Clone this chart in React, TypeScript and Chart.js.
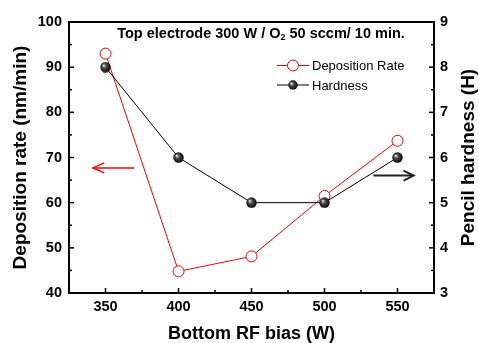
import React, { useEffect, useRef } from 'react';
import { Chart, registerables } from 'chart.js';
Chart.register(...registerables);

const biasW = [350, 400, 450, 500, 550];
const depositionRate = [93.0, 44.8, 48.1, 61.5, 73.7];
const hardness = [8, 6, 5, 5, 6];
const xTicks = [350, 400, 450, 500, 550];
const xMinorTicks = [375, 425, 475, 525];
const leftTicks = [40, 50, 60, 70, 80, 90, 100];
const leftMinorTicks = [45, 55, 65, 75, 85, 95];
const rightTicks = [3, 4, 5, 6, 7, 8, 9];
const rightMinorTicks = [3.5, 4.5, 5.5, 6.5, 7.5, 8.5];

const FONT = '"Liberation Sans", Arial, sans-serif';

function makeBall(size: number): HTMLCanvasElement {
  const c = document.createElement('canvas');
  c.width = size;
  c.height = size;
  const g = c.getContext('2d')!;
  const r = size / 2;
  const grad = g.createRadialGradient(r - r * 0.35, r - r * 0.35, r * 0.05, r, r, r);
  grad.addColorStop(0, '#e8e8e8');
  grad.addColorStop(0.35, '#505050');
  grad.addColorStop(1, '#000000');
  g.fillStyle = grad;
  g.beginPath();
  g.arc(r, r, r - 0.3, 0, Math.PI * 2);
  g.fill();
  return c;
}

export default function App() {
  const ref = useRef<HTMLCanvasElement | null>(null);
  useEffect(() => {
    document.body.style.margin = '0';
    const canvas = ref.current!;
    const ball = makeBall(11);
    const legendBall = makeBall(10);

    const decor = {
      id: 'decor',
      afterDraw(chart: any) {
        const { ctx, chartArea: a, scales } = chart;
        const sx = scales.x, yl = scales.y, yr = scales.y1;
        ctx.save();
        ctx.strokeStyle = '#000';
        const line = (x1: number, y1: number, x2: number, y2: number) => {
          ctx.beginPath();
          ctx.moveTo(x1, y1);
          ctx.lineTo(x2, y2);
          ctx.stroke();
        };
        ctx.lineWidth = 1.5;
        xTicks.forEach(v => { const p = sx.getPixelForValue(v); line(p, a.bottom, p, a.bottom - 5); });
        xMinorTicks.forEach(v => { const p = sx.getPixelForValue(v); line(p, a.bottom, p, a.bottom - 3); });
        leftTicks.forEach(v => { const p = yl.getPixelForValue(v); line(a.left, p, a.left + 5, p); });
        leftMinorTicks.forEach(v => { const p = yl.getPixelForValue(v); line(a.left, p, a.left + 3, p); });
        rightTicks.forEach(v => { const p = yr.getPixelForValue(v); line(a.right, p, a.right - 5, p); });
        rightMinorTicks.forEach(v => { const p = yr.getPixelForValue(v); line(a.right, p, a.right - 3, p); });
        ctx.lineWidth = 2;
        ctx.strokeRect(a.left, a.top, a.right - a.left, a.bottom - a.top);

        // header text with subscript
        ctx.fillStyle = '#000';
        ctx.textBaseline = 'middle';
        ctx.textAlign = 'left';
        const big = `bold 14.5px ${FONT}`;
        const small = `bold 9px ${FONT}`;
        const t1 = 'Top electrode 300 W / O';
        const t2 = '2';
        const t3 = ' 50 sccm/ 10 min.';
        ctx.font = big;
        const w1 = ctx.measureText(t1).width;
        const w3 = ctx.measureText(t3).width;
        ctx.font = small;
        const w2 = ctx.measureText(t2).width;
        const total = w1 + w2 + w3;
        let tx = 261 - total / 2;
        const ty = 34;
        ctx.font = big;
        ctx.fillText(t1, tx, ty);
        tx += w1;
        ctx.font = small;
        ctx.fillText(t2, tx, ty + 4);
        tx += w2;
        ctx.font = big;
        ctx.fillText(t3, tx, ty);

        // legend
        ctx.font = `13px ${FONT}`;
        ctx.lineWidth = 1;
        ctx.strokeStyle = '#ff0000';
        line(277, 65.5, 309, 65.5);
        ctx.fillStyle = '#fff';
        ctx.beginPath();
        ctx.arc(293, 65.5, 5.5, 0, Math.PI * 2);
        ctx.fill();
        ctx.stroke();
        ctx.fillStyle = '#000';
        ctx.fillText('Deposition Rate', 312, 66);
        ctx.strokeStyle = '#000';
        line(277, 85, 309, 85);
        ctx.drawImage(legendBall, 288, 80, 10, 10);
        ctx.fillStyle = '#000';
        ctx.fillText('Hardness', 312, 86);

        // arrows
        ctx.strokeStyle = '#ff0000';
        ctx.lineWidth = 1.5;
        const ry = yl.getPixelForValue(67.7);
        const rx1 = sx.getPixelForValue(341.5), rx2 = sx.getPixelForValue(369.5);
        line(rx1, ry, rx2, ry);
        ctx.beginPath();
        ctx.moveTo(rx1 + 11, ry - 5);
        ctx.lineTo(rx1, ry);
        ctx.lineTo(rx1 + 11, ry + 5);
        ctx.stroke();
        ctx.strokeStyle = '#222';
        ctx.lineWidth = 2;
        const by = yr.getPixelForValue(5.6);
        const bx1 = sx.getPixelForValue(533.5), bx2 = sx.getPixelForValue(561);
        line(bx1, by, bx2, by);
        ctx.beginPath();
        ctx.moveTo(bx2 - 10, by - 5);
        ctx.lineTo(bx2, by);
        ctx.lineTo(bx2 - 10, by + 5);
        ctx.stroke();

        // right axis title (reads bottom-to-top)
        ctx.save();
        ctx.translate(469, (a.top + a.bottom) / 2);
        ctx.rotate(-Math.PI / 2);
        ctx.textAlign = 'center';
        ctx.textBaseline = 'middle';
        ctx.font = `bold 19px ${FONT}`;
        ctx.fillStyle = '#000';
        ctx.fillText('Pencil hardness (H)', 0, 0);
        ctx.restore();
        ctx.restore();
      },
    };

    const tickFont = { family: FONT, size: 14.5, weight: 'bold' as const };
    const chart = new Chart(canvas, {
      type: 'line',
      data: {
        datasets: [
          {
            label: 'Hardness',
            data: biasW.map((b, i) => ({ x: b, y: hardness[i] })),
            yAxisID: 'y1',
            borderColor: '#000',
            borderWidth: 1,
            pointStyle: ball as any,
            pointRadius: 5.5,
            order: 0,
          },
          {
            label: 'Deposition Rate',
            data: biasW.map((b, i) => ({ x: b, y: depositionRate[i] })),
            yAxisID: 'y',
            borderColor: '#ff0000',
            borderWidth: 1,
            pointStyle: 'circle',
            pointRadius: 5.5,
            pointBorderColor: '#ff0000',
            pointBackgroundColor: '#ffffff',
            pointBorderWidth: 1,
            order: 1,
          },
        ],
      },
      options: {
        animation: false,
        responsive: false,
        layout: { padding: { top: 22, left: 0, right: 0, bottom: 0 } },
        plugins: { legend: { display: false }, tooltip: { enabled: false } },
        scales: {
          x: {
            type: 'linear',
            position: 'bottom',
            min: 325,
            max: 575,
            afterBuildTicks: (s: any) => { s.ticks = xTicks.map(v => ({ value: v })); },
            afterFit: (s: any) => { s.height = 50; },
            grid: { display: false, drawTicks: false },
            border: { display: false },
            ticks: { padding: 5, font: tickFont, color: '#000', maxRotation: 0 },
            title: {
              display: true,
              text: 'Bottom RF bias (W)',
              color: '#000',
              font: { family: FONT, size: 18, weight: 'bold', lineHeight: 1 },
              padding: { top: 0, bottom: 0 },
            },
          },
          y: {
            type: 'linear',
            position: 'left',
            min: 40,
            max: 100,
            afterBuildTicks: (s: any) => { s.ticks = leftTicks.map(v => ({ value: v })); },
            afterFit: (s: any) => { s.width = 69; },
            grid: { display: false, drawTicks: false },
            border: { display: false },
            ticks: { padding: 7, font: tickFont, color: '#000' },
            title: {
              display: true,
              text: 'Deposition rate (nm/min)',
              color: '#000',
              font: { family: FONT, size: 19, weight: 'bold', lineHeight: 1 },
              padding: { top: 11, bottom: 0 },
            },
          },
          y1: {
            type: 'linear',
            position: 'right',
            min: 3,
            max: 9,
            afterBuildTicks: (s: any) => { s.ticks = rightTicks.map(v => ({ value: v })); },
            afterFit: (s: any) => { s.width = 45; },
            grid: { display: false, drawTicks: false },
            border: { display: false },
            ticks: { padding: 6, font: tickFont, color: '#000' },
          },
        },
      },
      plugins: [decor],
    });
    return () => chart.destroy();
  }, []);
  return (
    <div style={{ width: 479, height: 343 }}>
      <canvas ref={ref} width={479} height={343} style={{ display: 'block' }} />
    </div>
  );
}
